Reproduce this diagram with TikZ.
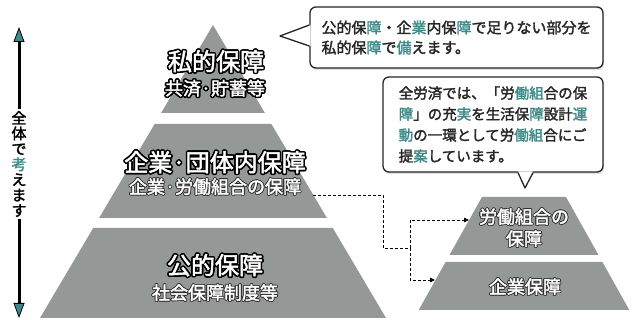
\documentclass[tikz,border=0pt]{standalone}
\usepackage{fontspec}
\setmainfont[AutoFakeBold=2]{Noto Sans CJK JP}
\usepackage{xcolor}
\usepackage{contour}
\usetikzlibrary{arrows.meta,shadows}

\definecolor{pyrgray}{RGB}{148,153,152}
\definecolor{hiteal}{RGB}{62,138,136}
\newcommand{\hl}[1]{\textcolor{hiteal}{#1}}
\contournumber{12}
\newcommand{\thick}[1]{{\contourlength{1.6pt}\contour{black}{#1}}}
\newcommand{\thin}[1]{{\contourlength{0.8pt}\contour{black!80}{#1}}}

\begin{document}
\begin{tikzpicture}[x=1pt,y=-1pt,
  tier/.style={fill=pyrgray},
  biglbl/.style={text=white,inner sep=0pt,font=\fontsize{24}{24}\selectfont\bfseries},
  sublbl/.style={text=white,inner sep=0pt,font=\fontsize{18}{18}\selectfont\bfseries},
  smalllbl/.style={text=white,inner sep=0pt,align=center,font=\fontsize{18}{22}\selectfont\bfseries},
  callbox/.style={draw=black!85,line width=1.3pt,rounded corners=6pt,fill=white,align=left,
    text=black!85,drop shadow={opacity=0.25,shadow xshift=1pt,shadow yshift=-2pt}},
  callpen/.style={draw=black!85,line width=1.3pt,line join=round},
  feed/.style={densely dashed,line width=0.8pt,-{Triangle[length=5pt,width=4.5pt]}},
  bothway/.style={line width=3pt,-{Triangle[width=11pt,length=15pt,fill=hiteal,line width=0.8pt]}},
  vtext/.style={align=center,inner sep=2pt,font=\fontsize{15}{15.4}\selectfont\bfseries}]
\useasboundingbox (0,0) rectangle (632,320);

\fill[tier] (213,25) -- (264.9,113) -- (161.1,113) -- cycle;
\fill[tier] (154.6,124) -- (271.4,124) -- (326.9,218) -- (99.1,218) -- cycle;
\fill[tier] (93.2,228) -- (332.8,228) -- (386,318) -- (40,318) -- cycle;

\fill[tier] (482,197) -- (566,197) -- (598.5,255) -- (449.5,255) -- cycle;
\fill[tier] (445.6,262) -- (602.4,262) -- (629.3,310) -- (418.7,310) -- cycle;

\node[biglbl] (private) at (216,62) {\thick{私的保障}};
\node[sublbl] (privatesub) at (215,89) {\thick{共済·貯蓄等}};
\node[biglbl] (group) at (215,163) {\thick{企業·団体内保障}};
\node[sublbl] (groupsub) at (215,187) {\thin{企業·労働組合の保障}};
\node[biglbl] (public) at (215,266) {\thick{公的保障}};
\node[sublbl] (publicsub) at (215,293) {\thin{社会保障制度等}};

\node[smalllbl] (union) at (524,228) {\thin{労働組合の}\\\thin{保障}};
\node[smalllbl] (corp) at (525,287) {\thin{企業保障}};

\coordinate (mid-r) at (313,195);
\coordinate (split) at (410,248);
\coordinate (union-l) at (469,220);
\coordinate (corp-l) at (435,280);
\draw[densely dashed,line width=0.8pt] (mid-r) -- (383,195) |- (split);
\draw[feed] (split) |- (union-l);
\draw[feed] (split) |- (corp-l);

\node[vtext] (whole) at (19,164) {全\\体\\で\\\hl{考}\\え\\ま\\す};
\coordinate (whole-top) at (19,27);
\coordinate (whole-bot) at (19,318);
\draw[bothway] (whole.north) -- (whole-top);
\draw[bothway] (whole.south) -- (whole-bot);

\node[callbox,minimum width=293pt,minimum height=61pt,font=\fontsize{15}{20}\selectfont\bfseries] (note1) at (456.5,37.5)
  {公的保\hl{障}・企\hl{業}内保\hl{障}で足りない部分を\\私的保\hl{障}で\hl{備}えます。};
\coordinate (tip1) at (280,36);
\fill[white] ([yshift=12.5pt,xshift=1.2pt]note1.west) -- (tip1) -- ([yshift=-8.5pt,xshift=1.2pt]note1.west) -- cycle;
\draw[callpen] ([yshift=12.5pt]note1.west) -- (tip1) -- ([yshift=-8.5pt]note1.west);

\node[callbox,minimum width=220pt,minimum height=95pt,font=\fontsize{14.5}{21}\selectfont\bfseries] (note2) at (493,124.5)
  {全労済では、「労\hl{働組}合の保\\\hl{障}」の充\hl{実}を生活保\hl{障}設計\hl{運}\\\hl{動}の一環として労\hl{働組}合にご\\提\hl{案}しています。};
\coordinate (tip2) at (525,188);
\fill[white] ([xshift=25pt,yshift=1.2pt]note2.south) -- (tip2) -- ([xshift=40pt,yshift=1.2pt]note2.south) -- cycle;
\draw[callpen] ([xshift=25pt]note2.south) -- (tip2) -- ([xshift=40pt]note2.south);
\end{tikzpicture}
\end{document}
